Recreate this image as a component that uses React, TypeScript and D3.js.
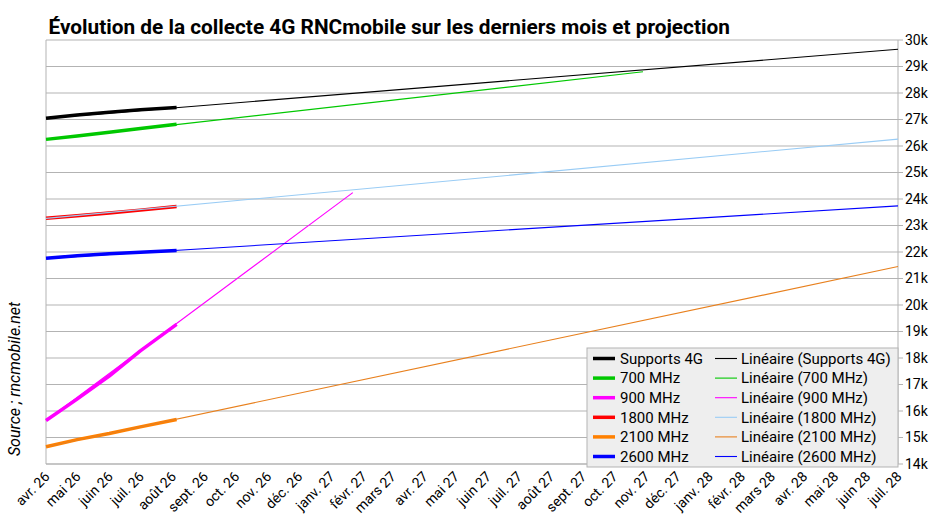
import React from "react";
import * as d3 from "d3";

const W = 951;
const H = 526;

const title = "Évolution de la collecte 4G RNCmobile sur les derniers mois et projection";
const sourceText = "Source ; rncmobile.net";

// observation dates
const dataDates = ["2026-04-01", "2026-05-01", "2026-06-01", "2026-07-01", "2026-08-05"];

const seriesNames = ["Supports 4G", "700 MHz", "900 MHz", "1800 MHz", "2100 MHz", "2600 MHz"];
const seriesColors = ["#000000", "#00c800", "#ff00ff", "#ff0000", "#ff8000", "#0000ff"];
const trendColors = ["#000000", "#00c800", "#ff00ff", "#99ccf5", "#e8801e", "#0000ff"];

// values in thousands
const supports4G = [27.05, 27.17, 27.27, 27.37, 27.45];
const mhz700 = [26.25, 26.38, 26.52, 26.66, 26.82];
const mhz900 = [15.64, 16.45, 17.32, 18.27, 19.27];
const mhz1800 = [23.27, 23.37, 23.47, 23.58, 23.72];
const mhz2100 = [14.65, 14.92, 15.15, 15.4, 15.68];
const mhz2600 = [21.76, 21.86, 21.93, 21.99, 22.06];
const seriesValues = [supports4G, mhz700, mhz900, mhz1800, mhz2100, mhz2600];

// linear trend lines (projection): start value, end value, end date
const trendStartValues = [27.05, 26.25, 15.64, 23.27, 14.65, 21.76];
const trendEndValues = [29.65, 28.8, 24.24, 26.26, 21.45, 23.74];
const trendEndDates = ["2028-07-01", "2027-10-29", "2027-01-22", "2028-07-01", "2028-07-01", "2028-07-01"];

const monthLabels = ["janv.", "févr.", "mars", "avr.", "mai", "juin", "juil.", "août", "sept.", "oct.", "nov.", "déc."];
const yTicks = [14, 15, 16, 17, 18, 19, 20, 21, 22, 23, 24, 25, 26, 27, 28, 29, 30];

const parse = (s: string) => {
  const [y, m, d] = s.split("-").map(Number);
  return new Date(y, m - 1, d);
};

const left = 46;
const right = 898;
const top = 40;
const bottom = 464;

export default function App() {
  const x = d3.scaleTime().domain([new Date(2026, 3, 1), new Date(2028, 6, 1)]).range([left, right]);
  const y = d3.scaleLinear().domain([14, 30]).range([bottom, top]);
  const months = d3.timeMonth.range(new Date(2026, 3, 1), new Date(2028, 6, 2));
  const line = d3
    .line<{ d: Date; v: number }>()
    .x((p) => x(p.d))
    .y((p) => y(p.v));

  const font = "Roboto, 'Noto Sans', sans-serif";
  const gridColor = "#b3b3b3";

  const legendX = 587;
  const legendY = 348;
  const legendW = 311;
  const legendH = 119;
  const rowH = 19.6;

  return (
    <svg
      width={W}
      height={H}
      style={{ position: "fixed", left: 0, top: 0, background: "#fff" }}
      fontFamily={font}
    >
      <rect x={0} y={0} width={W} height={H} fill="#fff" />
      <text x={48.5} y={34} fontSize={20.8} fontWeight="bold" fill="#000">
        {title}
      </text>
      {yTicks.map((t) => (
        <g key={t}>
          <line x1={left} x2={right + 5} y1={y(t)} y2={y(t)} stroke={gridColor} strokeWidth={1} />
          <text x={905} y={y(t)} dy="0.35em" fontSize={14} fill="#000">
            {t}k
          </text>
        </g>
      ))}
      <line x1={left} x2={left} y1={top} y2={bottom} stroke={gridColor} />
      <line x1={right} x2={right} y1={top} y2={bottom} stroke={gridColor} />
      <line x1={left} x2={right} y1={bottom} y2={bottom} stroke={gridColor} />
      {months.map((m, i) => {
        const label = `${monthLabels[m.getMonth()]} ${String(m.getFullYear()).slice(2)}`;
        const px = x(m);
        return (
          <text
            key={i}
            transform={`translate(${px + 1},${bottom + 10}) rotate(-45)`}
            textAnchor="end"
            dominantBaseline="central"
            fontSize={14}
            fill="#000"
          >
            {label}
          </text>
        );
      })}
      <text
        transform={`translate(20,379) rotate(-90)`}
        textAnchor="middle"
        fontSize={16}
        fontStyle="italic"
        fill="#000"
      >
        {sourceText}
      </text>
      {seriesValues.map((vals, i) => (
        <path
          key={"s" + i}
          d={line(vals.map((v, j) => ({ d: parse(dataDates[j]), v }))) || ""}
          fill="none"
          stroke={seriesColors[i]}
          strokeWidth={3.5}
          strokeLinejoin="round"
        />
      ))}
      {trendStartValues.map((sv, i) => (
        <path
          key={"t" + i}
          d={
            line([
              { d: parse(dataDates[0]), v: sv },
              { d: parse(trendEndDates[i]), v: trendEndValues[i] },
            ]) || ""
          }
          fill="none"
          stroke={trendColors[i]}
          strokeWidth={1.1}
        />
      ))}
      <rect x={legendX} y={legendY} width={legendW} height={legendH} fill="#eeeeee" stroke={gridColor} />
      {seriesNames.map((n, i) => {
        const ry = legendY + 10.5 + i * rowH;
        return (
          <g key={"l" + i}>
            <line x1={593} x2={615} y1={ry} y2={ry} stroke={seriesColors[i]} strokeWidth={3.5} />
            <text x={620} y={ry} dy="0.35em" fontSize={15} fill="#000">
              {n}
            </text>
            <line x1={715} x2={737} y1={ry} y2={ry} stroke={trendColors[i]} strokeWidth={1.1} />
            <text x={741} y={ry} dy="0.35em" fontSize={15} fill="#000">
              {`Linéaire (${n})`}
            </text>
          </g>
        );
      })}
    </svg>
  );
}
